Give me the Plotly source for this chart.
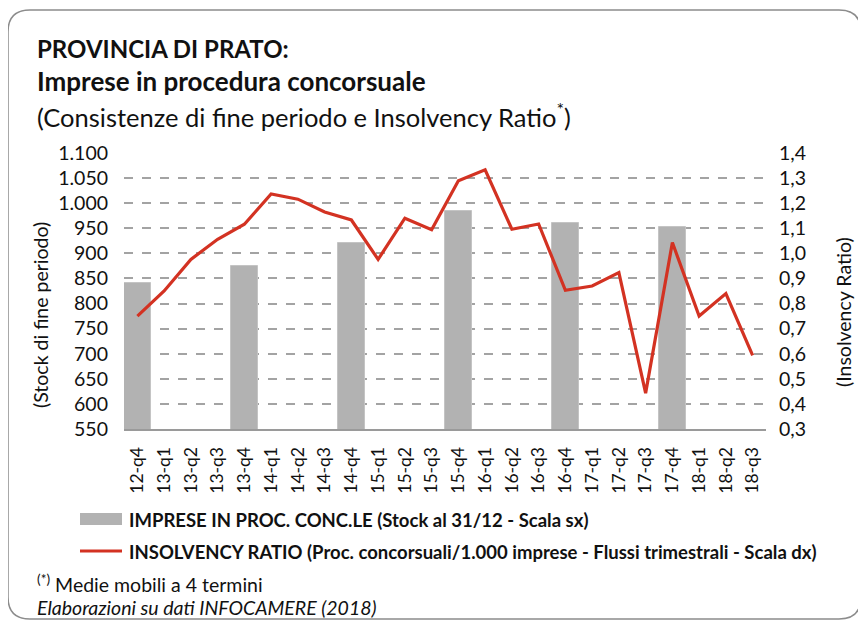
import plotly.graph_objects as go

categories = ["12-q4","13-q1","13-q2","13-q3","13-q4","14-q1","14-q2","14-q3",
              "14-q4","15-q1","15-q2","15-q3","15-q4","16-q1","16-q2","16-q3",
              "16-q4","17-q1","17-q2","17-q3","17-q4","18-q1","18-q2","18-q3"]
stock = [841, None, None, None, 875, None, None, None,
         921, None, None, None, 985, None, None, None,
         960, None, None, None, 952, None, None, None]
insolvency = [0.75, 0.85, 0.976, 1.056, 1.116, 1.237, 1.216, 1.165,
              1.133, 0.976, 1.14, 1.094, 1.289, 1.333, 1.096, 1.117,
              0.853, 0.87, 0.923, 0.443, 1.043, 0.75, 0.84, 0.593]
left_ticks = list(range(550, 1101, 50))
right_ticks = [round(0.3 + 0.1 * i, 1) for i in range(12)]

FONT = "Lato"
OFF = 8  # browser default body margin
W, H = 866 - OFF, 625 - OFF
L, R, T, B = 124 - OFF, 766 - OFF, 153 - OFF, 429 - OFF
PW, PH = R - L, B - T


def px(x):
    # x in reference-window pixels
    return (x - OFF - L) / PW


def py(y):
    return (B - (y - OFF)) / PH


fig = go.Figure()
fig.add_trace(go.Bar(x=categories, y=stock, name="IMPRESE IN PROC. CONC.LE",
                     marker=dict(color="#b2b2b2", line=dict(color="#c4c4c4", width=1)),
                     width=1.0, yaxis="y", showlegend=False))
fig.add_trace(go.Scatter(x=categories, y=insolvency, mode="lines", name="INSOLVENCY RATIO",
                         line=dict(color="#d33222", width=3.2), yaxis="y2", showlegend=False))

shapes = []
annotations = []

# rounded border
x0, x1, y0, y1 = 8, 861, 10, 619
r = 22
path = (f"M {px(x0+r)},{py(y0)} L {px(x1-r)},{py(y0)} Q {px(x1)},{py(y0)} {px(x1)},{py(y0+r)} "
        f"L {px(x1)},{py(y1-r)} Q {px(x1)},{py(y1)} {px(x1-r)},{py(y1)} "
        f"L {px(x0+r)},{py(y1)} Q {px(x0)},{py(y1)} {px(x0)},{py(y1-r)} "
        f"L {px(x0)},{py(y0+r)} Q {px(x0)},{py(y0)} {px(x0+r)},{py(y0)} Z")
shapes.append(dict(type="path", xref="paper", yref="paper", path=path,
                   line=dict(color="#8c8c8c", width=1.5), layer="below"))

# legend (manual)
shapes.append(dict(type="rect", xref="paper", yref="paper",
                   x0=px(80), x1=px(122), y0=py(525), y1=py(513),
                   fillcolor="#b2b2b2", line=dict(width=0)))
shapes.append(dict(type="line", xref="paper", yref="paper",
                   x0=px(80), x1=px(122), y0=py(551), y1=py(551),
                   line=dict(color="#d33222", width=3)))
annotations.append(dict(xref="paper", yref="paper", x=px(127), y=py(520), xanchor="left", yanchor="middle",
                        text="<b>IMPRESE IN PROC. CONC.LE (Stock al 31/12 - Scala sx)</b>",
                        showarrow=False, font=dict(family=FONT, size=18.5, color="#111")))
annotations.append(dict(xref="paper", yref="paper", x=px(127), y=py(552), xanchor="left", yanchor="middle",
                        text="<b>INSOLVENCY RATIO (Proc. concorsuali/1.000 imprese - Flussi trimestrali - Scala dx)</b>",
                        showarrow=False, font=dict(family=FONT, size=18.5, color="#111")))

# titles
annotations.append(dict(xref="paper", yref="paper", x=px(35), y=py(48), xanchor="left", yanchor="middle",
                        text="<b>PROVINCIA DI PRATO:</b>", showarrow=False,
                        font=dict(family=FONT, size=24, color="#111")))
annotations.append(dict(xref="paper", yref="paper", x=px(35), y=py(81), xanchor="left", yanchor="middle",
                        text="<b>Imprese in procedura concorsuale</b>", showarrow=False,
                        font=dict(family=FONT, size=26, color="#111")))
annotations.append(dict(xref="paper", yref="paper", x=px(35), y=py(115), xanchor="left", yanchor="middle",
                        text="(Consistenze di fine periodo e Insolvency Ratio<sup>*</sup>)", showarrow=False,
                        font=dict(family=FONT, size=25.5, color="#111")))

# axis titles
annotations.append(dict(xref="paper", yref="paper", x=px(40), y=py(315), xanchor="center", yanchor="middle",
                        text="(Stock di fine periodo)", textangle=-90, showarrow=False,
                        font=dict(family=FONT, size=19.5, color="#111")))
annotations.append(dict(xref="paper", yref="paper", x=px(843), y=py(312), xanchor="center", yanchor="middle",
                        text="(Insolvency Ratio)", textangle=-90, showarrow=False,
                        font=dict(family=FONT, size=19.5, color="#111")))

# footnotes
annotations.append(dict(xref="paper", yref="paper", x=px(35), y=py(583), xanchor="left", yanchor="middle",
                        text="<sup>(*)</sup> Medie mobili a 4 termini", showarrow=False,
                        font=dict(family=FONT, size=19.5, color="#111")))
annotations.append(dict(xref="paper", yref="paper", x=px(35), y=py(607), xanchor="left", yanchor="middle",
                        text="<i>Elaborazioni su dati INFOCAMERE (2018)</i>", showarrow=False,
                        font=dict(family=FONT, size=19.5, color="#111")))

fig.update_layout(
    width=W, height=H,
    margin=dict(l=L, r=W - R, t=T, b=H - B),
    paper_bgcolor="white", plot_bgcolor="white",
    separators=",.",
    bargap=0,
    font=dict(family=FONT, color="#111"),
    xaxis=dict(type="category", tickangle=-90, tickfont=dict(size=17.5, color="#111"),
               showline=True, linecolor="#9a9a9a", linewidth=2, ticks="", showgrid=False,
               ticklabelstandoff=9, range=[-0.5, len(categories) - 0.5]),
    yaxis=dict(range=[550, 1100], tickvals=left_ticks, tickformat=",d",
               tickfont=dict(size=19.5, color="#111"), showgrid=True, gridcolor="#a3a3a3",
               griddash="dash", gridwidth=1.5, zeroline=False, ticks="", ticklabelstandoff=15),
    yaxis2=dict(range=[0.3, 1.4], tickvals=right_ticks, tickformat=".1f", overlaying="y", side="right",
                tickfont=dict(size=19.5, color="#111"), showgrid=False, zeroline=False, ticks="",
                ticklabelstandoff=12),
    shapes=shapes, annotations=annotations,
)

fig.write_html("out.html")
